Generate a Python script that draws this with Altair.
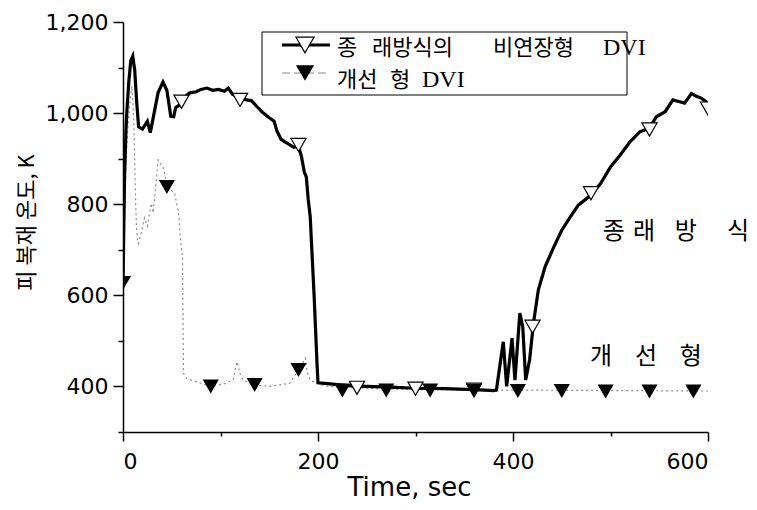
import altair as alt
import pandas as pd

# ---- data ----
# Conventional (non-extended) DVI, solid black line
t1 = [0, 1.5, 3, 4, 6, 8, 10, 12, 14, 16, 20, 25, 28, 31, 36, 41, 45, 49, 52, 54, 58, 62, 68, 75,
      80, 86, 92, 98, 104, 108, 112, 118, 125, 132, 137, 143, 150, 155, 158, 162, 166, 170, 175,
      180, 183, 186, 188, 190, 192, 196, 199, 200, 210, 230, 250, 280, 300, 330, 360, 380, 383,
      390, 393.5, 399, 402, 407, 410, 413, 417, 421, 426, 433, 442, 450, 459, 467, 480, 490, 500,
      510, 520, 530, 540, 547, 556, 564, 571, 576, 583, 588, 593, 598, 600]
y1 = [620, 850, 960, 1005, 1070, 1115, 1125, 1095, 1025, 970, 965, 982, 957, 990, 1045, 1068, 1050,
      993, 992, 1012, 1018, 1032, 1044, 1047, 1052, 1055, 1050, 1052, 1048, 1055, 1042, 1035,
      1030, 1027, 1015, 1002, 990, 982, 960, 943, 937, 932, 925, 928, 905, 870, 860, 810, 773,
      600, 450, 408, 406, 402, 400, 398, 396, 395, 393, 391, 392, 498, 400, 506, 414, 561, 531,
      414, 458, 539, 612, 663, 707, 743, 773, 798, 820, 846, 882, 908, 937, 959, 967, 992, 1003,
      1029, 1025, 1022, 1043, 1037, 1033, 1025, 1020]
m1_t = [60, 120, 180, 240, 300, 360, 420, 480, 540, 600]
m1_y = [1025, 1029, 930, 397, 395, 393, 531, 824, 964, 1010]

# Improved DVI, grey dotted line
t2 = [0, 3, 6, 9, 11, 12, 13, 14, 15, 16, 19, 22, 25, 29, 31, 36, 41, 46, 53, 57, 59, 61, 62, 65,
      75, 91, 106, 113, 117, 120, 123, 135, 150, 171, 183, 187, 189, 192, 199, 210, 250, 300,
      400, 500, 600]
y2 = [627, 900, 1000, 1060, 990, 900, 800, 740, 720, 714, 740, 770, 752, 802, 781, 897, 882, 838,
      824, 780, 721, 685, 429, 418, 410, 400, 407, 416, 454, 428, 414, 403, 400, 407, 447, 462,
      430, 414, 407, 400, 396, 393, 392, 391, 390]
m2_t = [0, 45, 90, 135, 180, 225, 270, 315, 360, 405, 450, 495, 540, 585]
m2_y = [627, 838, 400, 403, 436, 391, 391, 391, 390, 390, 390, 389, 389, 389]

# legend words (row 1: conventional, row 2: improved)
leg_words = ["종", "래방식의", "비연장형", "DVI", "개선", "형", "DVI"]
leg_row = [0, 0, 0, 0, 1, 1, 1]
leg_off = [0, 35, 156, 266, 0, 53, 85]          # offset of each word from text start
leg_font = ["k", "k", "k", "l", "k", "k", "l"]

# in-plot annotations, one glyph each
ann_chars = ["종", "래", "방", "식", "개", "선", "형"]
ann_t = [492, 523, 566, 619.5, 479, 525, 571]
ann_y = [739, 739, 739, 739, 465, 465, 465]

x_title = "Time, sec"
y_title = "피 복재 온도, K"

KFONT = "Noto Sans CJK KR"
NFONT = "DejaVu Sans"
LFONT = "Liberation Serif"

df1 = pd.DataFrame({"t": t1, "y": y1})
dm1 = pd.DataFrame({"t": m1_t, "y": m1_y})
df2 = pd.DataFrame({"t": t2, "y": y2})
dm2 = pd.DataFrame({"t": m2_t, "y": m2_y})
dann = pd.DataFrame({"t": ann_t, "y": ann_y, "label": ann_chars})

# legend layout (pixels inside the plot area)
LEG_X0, LEG_TEXT_X, LEG_ROW_Y, LEG_TEXT_Y = 159, 214, [23, 51], [26, 58]
dleg = pd.DataFrame({
    "px": [LEG_TEXT_X + o for o in leg_off],
    "py": [LEG_TEXT_Y[r] for r in leg_row],
    "label": leg_words,
    "f": leg_font,
})

xscale = alt.Scale(domain=[0, 600], nice=False, zero=False)
yscale = alt.Scale(domain=[300, 1200], nice=False, zero=False)

xaxis = alt.Axis(
    values=list(range(0, 601, 100)),
    labelExpr="datum.value % 200 == 0 ? datum.value : ''",
    tickSize={"condition": {"test": "datum.value % 200 == 0", "value": 9}, "value": 4},
    labelPadding=10, labelOverlap=False, labelFont=NFONT, labelFontSize=22,
    labelColor="black", grid=False, domainColor="black", domainWidth=1.5,
    tickColor="black", tickWidth=1.5,
    title=x_title, titleFont=NFONT, titleFontSize=26, titleFontWeight="normal",
    titleColor="black", titleX=286, titleY=63, titleBaseline="alphabetic",
)
yaxis = alt.Axis(
    values=list(range(300, 1201, 100)),
    labelExpr="datum.value % 200 == 0 ? format(datum.value, ',') : ''",
    tickSize={"condition": {"test": "datum.value % 200 == 0", "value": 10}, "value": 5},
    labelPadding=5, labelOverlap=False, labelFont=NFONT, labelFontSize=22,
    labelColor="black", grid=False, domainColor="black", domainWidth=1.5,
    tickColor="black", tickWidth=1.5,
    title=y_title, titleFont=KFONT, titleFontSize=22, titleFontWeight="normal",
    titleColor="black", titleAngle=270, titleX=-97, titleY=200,
    titleAlign="center", titleBaseline="middle",
)

line2 = alt.Chart(df2).mark_line(color="#8c8c8c", strokeWidth=1.2, strokeDash=[2, 3], clip=True).encode(
    x=alt.X("t:Q", scale=xscale, axis=xaxis),
    y=alt.Y("y:Q", scale=yscale, axis=yaxis),
)
line1 = alt.Chart(df1).mark_line(color="black", strokeWidth=3.2, clip=True).encode(
    x=alt.X("t:Q", scale=xscale), y=alt.Y("y:Q", scale=yscale))
pts1 = alt.Chart(dm1).mark_point(shape="triangle-down", filled=True, fill="white", stroke="black",
                                 strokeWidth=1.2, size=230, opacity=1, clip=True).encode(
    x=alt.X("t:Q", scale=xscale), y=alt.Y("y:Q", scale=yscale))
pts2 = alt.Chart(dm2).mark_point(shape="triangle-down", filled=True, color="black",
                                 size=260, opacity=1, clip=True).encode(
    x=alt.X("t:Q", scale=xscale), y=alt.Y("y:Q", scale=yscale))

ann = alt.Chart(dann).mark_text(font=KFONT, fontSize=24, align="left", baseline="middle",
                                color="black").encode(
    x=alt.X("t:Q", scale=xscale), y=alt.Y("y:Q", scale=yscale), text="label:N")

# ---- hand-made legend ----
one = pd.DataFrame({"k": [0]})
box = alt.Chart(one).mark_rect(fillOpacity=0, stroke="black", strokeWidth=1).encode(
    x=alt.value(139), x2=alt.value(504), y=alt.value(10), y2=alt.value(73))
leg_l1 = alt.Chart(one).mark_rule(color="black", strokeWidth=3).encode(
    x=alt.value(LEG_X0), x2=alt.value(LEG_X0 + 48), y=alt.value(LEG_ROW_Y[0]))
leg_p1 = alt.Chart(one).mark_point(shape="triangle-down", filled=True, fill="white", stroke="black",
                                   strokeWidth=1.2, size=330, opacity=1).encode(
    x=alt.value(LEG_X0 + 23), y=alt.value(LEG_ROW_Y[0]))
leg_l2 = alt.Chart(one).mark_rule(color="#8c8c8c", strokeWidth=1.2, strokeDash=[8, 4]).encode(
    x=alt.value(LEG_X0), x2=alt.value(LEG_X0 + 48), y=alt.value(LEG_ROW_Y[1]))
leg_p2 = alt.Chart(one).mark_point(shape="triangle-down", filled=True, color="black",
                                   size=330, opacity=1).encode(
    x=alt.value(LEG_X0 + 23), y=alt.value(LEG_ROW_Y[1]))
leg_k = alt.Chart(dleg).transform_filter("datum.f == 'k'").mark_text(
    font=KFONT, fontSize=22, align="left", baseline="middle", color="black").encode(
    x=alt.X("px:Q", scale=None), y=alt.Y("py:Q", scale=None), text="label:N")
leg_l = alt.Chart(dleg).transform_filter("datum.f == 'l'").mark_text(
    font=LFONT, fontSize=24, align="left", baseline="middle", color="black").encode(
    x=alt.X("px:Q", scale=None), y=alt.Y("py:Q", scale=None), text="label:N")

chart = alt.layer(
    line2, line1, pts1, pts2, ann, box, leg_l1, leg_p1, leg_l2, leg_p2, leg_k, leg_l
).properties(
    width=585, height=410,
    autosize=alt.AutoSizeParams(type="none"),
    padding={"left": 115, "top": 14, "right": 41, "bottom": 70},
    background="white",
).configure_view(strokeWidth=0)

chart.save("out.html", embed_options={"renderer": "svg", "actions": False})
